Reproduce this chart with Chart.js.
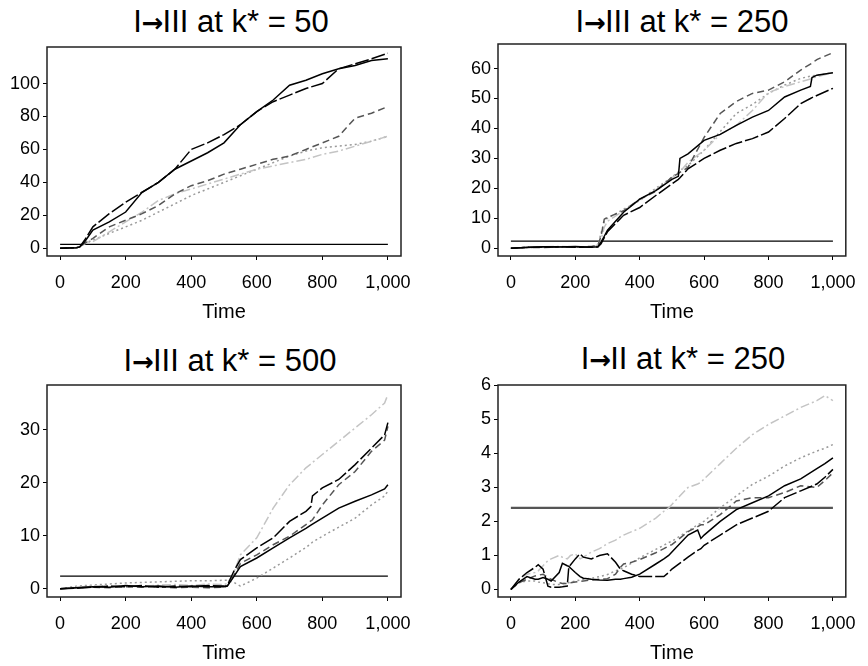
<!DOCTYPE html>
<html>
<head>
<meta charset="utf-8">
<script src="https://cdn.jsdelivr.net/npm/chart.js@4.4.0/dist/chart.umd.min.js"></script>
<style>
	body {margin: 0; background: #fff;}
	#page {position: relative; width: 868px; height: 666px; background: #fff; font-family: "Liberation Sans", Arial, sans-serif;}
	canvas {position: absolute;}
	.title {position: absolute; width: 320px; text-align: center; font-size: 31px; line-height: 36px; color: #000; white-space: nowrap;}
	.arrow {font-family: "DejaVu Sans", sans-serif; font-weight: bold; font-size: 26px; margin: 0 -1px 0 0;}
</style>
</head>
<body>
<div id="page">
	<div class="title" style="left:71px; top:4px">I<span class="arrow">→</span>III at k* = 50</div>
	<div class="title" style="left:522px; top:4px">I<span class="arrow">→</span>III at k* = 250</div>
	<div class="title" style="left:70px; top:343px">I<span class="arrow">→</span>III at k* = 500</div>
	<div class="title" style="left:523px; top:341px">I<span class="arrow">→</span>II at k* = 250</div>
	<canvas id="p1" width="434" height="333" style="left:0; top:0"></canvas>
	<canvas id="p2" width="434" height="333" style="left:434px; top:0"></canvas>
	<canvas id="p3" width="434" height="333" style="left:0; top:333px"></canvas>
	<canvas id="p4" width="434" height="333" style="left:434px; top:333px"></canvas>
</div>
<script>
// shared axis values
const xTicks = [0, 200, 400, 600, 800, 1000]
const threshold = 2.4

// I->III at k* = 50
const p1Time = [0, 50, 60, 75, 100, 150, 200, 250, 300, 350, 400, 450, 500, 550, 600, 650, 700, 750, 800, 850, 900, 950, 1000]
const p1Solid = [0, 0.3, 0.8, 4, 11, 16, 22, 34, 40, 48, 53, 58, 64, 75, 83, 90, 99, 102, 106, 109, 111, 114, 115]
const p1LongDash = [0, 0.3, 0.8, 5, 13, 21, 28, 34, 40, 48, 60, 64, 69, 75, 83, 89, 93, 97, 100, 109, 112, 115, 118.5]
const p1Dash = [0, 0.3, 1, 3, 6, 13, 17, 21, 26, 33, 38, 41, 45, 48, 51, 54, 56, 60, 64, 68, 79, 82, 86]
const p1DashDot = [0, 0.3, 1, 2.5, 4, 10, 16, 22, 29, 33, 36, 39, 42, 45, 48, 50, 52, 54, 57, 59, 62, 65, 68]
const p1Dot = [0, 0.3, 1, 3, 5, 9, 13, 17, 22, 27, 32, 36, 40, 44, 48, 52, 56, 59, 61, 62, 63, 65, 68]
const p1YTicks = [0, 20, 40, 60, 80, 100]

// I->III at k* = 250
const p2Time = [0, 50, 100, 150, 200, 250, 270, 280, 290, 300, 350, 400, 450, 500, 520, 525, 550, 600, 650, 700, 750, 800, 850, 900, 930, 935, 950, 1000]
const p2Solid = [0, 0.2, 0.5, 0.4, 0.6, 0.3, 0.5, 2, 4, 6, 12, 16.4, 19.2, 23, 24, 30, 31.5, 36, 38, 41, 43.8, 46, 50.5, 52.8, 54, 57, 57.8, 58.6]
const p2LongDash = [0, 0.3, 0.4, 0.5, 0.3, 0.4, 0.4, 1.5, 3.5, 5.5, 11, 13.6, 17.6, 21.5, 23, 23.5, 26.5, 30, 32.7, 35, 36.6, 38.8, 43.3, 48.3, 50, 50.3, 51, 53.4]
const p2Dash = [0, 0.3, 0.2, 0.5, 0.4, 0.6, 1, 4, 9.7, 10.3, 12.5, 16.4, 19, 23.7, 25, 25.3, 27, 37, 45, 49, 51.7, 52.8, 55.6, 59.5, 61.5, 61.8, 63, 65.3]
const p2DashDot = [0, 0.3, 0.5, 0.6, 0.4, 0.5, 0.8, 3, 7, 9, 12.5, 16, 19.5, 23.5, 25, 25.5, 28.7, 32.7, 38, 41, 46, 52, 54, 55.6, 56.5, 56.8, 57.3, 58.6]
const p2Dot = [0, 0.2, 0.4, 0.3, 0.5, 0.4, 1, 5, 9, 10, 13, 15.9, 20, 23.7, 25.5, 26, 27.6, 32.7, 39, 45, 48, 51.7, 54.5, 56.7, 57.5, 57.6, 57.8, 58.6]
const p2YTicks = [0, 10, 20, 30, 40, 50, 60]

// I->III at k* = 500
const p3Time = [0, 50, 100, 150, 200, 250, 300, 350, 400, 450, 500, 510, 530, 550, 600, 650, 700, 750, 765, 770, 800, 850, 900, 950, 990, 1000]
const p3Solid = [0, 0.2, 0.4, 0.3, 0.6, 0.4, 0.5, 0.3, 0.5, 0.4, 0.4, 0.5, 2.3, 4.2, 5.8, 7.7, 9.6, 11.4, 12, 12.2, 13.3, 15.2, 16.5, 17.7, 18.8, 19.6]
const p3LongDash = [0, 0.1, 0.3, 0.5, 0.4, 0.6, 0.3, 0.5, 0.4, 0.6, 0.5, 0.6, 3.3, 5.5, 7.7, 9.6, 12.7, 14.6, 15.5, 17.5, 19, 20.6, 23.4, 26.5, 29, 31.3]
const p3Dash = [0, 0.2, 0.3, 0.2, 0.4, 0.3, 0.4, 0.2, 0.3, 0.2, 0.3, 0.5, 2.5, 4.8, 6.4, 8.3, 9.9, 12.1, 12.8, 13, 15.8, 19.6, 22.1, 25.9, 28, 30.6]
const p3DashDot = [0, 0.3, 0.5, 0.6, 0.5, 0.4, 0.7, 0.8, 0.6, 0.9, 0.8, 1, 3, 6.4, 9.6, 15.2, 19.6, 22.8, 23.5, 23.8, 25.3, 27.8, 30.3, 32.8, 35, 36.6]
const p3Dot = [0, 0.5, 0.7, 0.9, 1.1, 1.2, 1.3, 1.4, 1.5, 1.5, 1.6, 1.6, 1.2, 0.5, 2, 3.9, 5.8, 7.8, 8.5, 8.8, 9.9, 11.6, 13.3, 15.8, 17.5, 18.4]
const p3YTicks = [0, 10, 20, 30]

// I->II at k* = 250
const p4Time = [0, 25, 50, 75, 85, 100, 115, 125, 150, 160, 175, 180, 185, 200, 215, 225, 250, 275, 300, 325, 340, 350, 375, 400, 450, 475, 490, 500, 550, 580, 590, 600, 650, 700, 750, 800, 850, 900, 950, 975, 1000]
const p4Solid = [0, 0.22, 0.38, 0.3, 0.3, 0.35, 0.3, 0.25, 0.5, 0.77, 0.7, 0.68, 0.63, 0.5, 0.38, 0.33, 0.3, 0.28, 0.27, 0.3, 0.3, 0.32, 0.36, 0.45, 0.75, 0.9, 1.0, 1.1, 1.6, 1.75, 1.5, 1.6, 2.0, 2.35, 2.55, 2.75, 3.05, 3.25, 3.55, 3.7, 3.87]
const p4LongDash = [0, 0.3, 0.5, 0.65, 0.73, 0.6, 0.1, 0.07, 0.07, 0.08, 0.1, 0.68, 0.72, 0.9, 1.05, 0.95, 0.9, 1.0, 1.05, 0.8, 0.6, 0.55, 0.45, 0.38, 0.38, 0.38, 0.5, 0.6, 0.95, 1.15, 1.2, 1.3, 1.6, 1.9, 2.1, 2.3, 2.7, 2.9, 3.1, 3.3, 3.53]
const p4Dash = [0, 0.2, 0.3, 0.4, 0.42, 0.45, 0.35, 0.3, 0.2, 0.18, 0.18, 0.2, 0.2, 0.22, 0.24, 0.25, 0.28, 0.3, 0.32, 0.45, 0.65, 0.75, 0.8, 0.88, 1.08, 1.2, 1.28, 1.32, 1.7, 1.85, 1.9, 1.9, 2.2, 2.6, 2.7, 2.7, 2.85, 3.05, 3.0, 3.2, 3.43]
const p4DashDot = [0, 0.3, 0.45, 0.5, 0.55, 0.7, 0.85, 0.9, 1.0, 0.95, 0.9, 0.95, 1.0, 1.05, 0.9, 0.95, 1.1, 1.2, 1.35, 1.45, 1.55, 1.6, 1.7, 1.8, 2.1, 2.3, 2.4, 2.5, 3.0, 3.1, 3.15, 3.25, 3.7, 4.15, 4.55, 4.85, 5.1, 5.35, 5.55, 5.7, 5.55]
const p4Dot = [0, 0.2, 0.25, 0.25, 0.22, 0.2, 0.17, 0.15, 0.15, 0.17, 0.2, 0.2, 0.21, 0.25, 0.28, 0.3, 0.33, 0.38, 0.44, 0.55, 0.6, 0.64, 0.78, 0.93, 1.18, 1.3, 1.38, 1.42, 1.72, 1.9, 1.95, 2.01, 2.4, 2.75, 3.09, 3.33, 3.63, 3.87, 4.07, 4.15, 4.26]
const p4YTicks = [0, 1, 2, 3, 4, 5, 6]

const FONT = '"Liberation Sans", Arial, sans-serif'

// line looks, in dataset order (first one is drawn on top)
const looks = [
	{color: '#000', dash: [], width: 1.5},
	{color: '#000', dash: [14, 3], width: 1.5},
	{color: '#555', dash: [7, 4], width: 1.5},
	{color: '#c4c4c4', dash: [9, 3, 2, 3], width: 1.5},
	{color: '#9a9a9a', dash: [2, 3], width: 1.5},
]

const framePlugin = {
	id: 'frame',
	afterDraw(chart) {
		const {ctx, chartArea: a} = chart
		ctx.save()
		ctx.strokeStyle = '#222'
		ctx.lineWidth = 1.5
		ctx.strokeRect(a.left, a.top, a.right - a.left, a.bottom - a.top)
		ctx.restore()
	},
}

function makePanel(id, time, series, yTicks, yMin, yMax, pad, thresholdLook) {
	const datasets = series.map((values, i) => ({
		data: values.map((v, k) => ({x: time[k], y: v})),
		borderColor: looks[i].color,
		borderDash: looks[i].dash,
		borderWidth: looks[i].width,
		pointRadius: 0,
		tension: 0,
	}))
	datasets.push({
		data: [{x: xTicks[0], y: threshold}, {x: xTicks[xTicks.length - 1], y: threshold}],
		borderColor: thresholdLook.color,
		borderWidth: thresholdLook.width,
		pointRadius: 0,
	})
	new Chart(document.getElementById(id), {
		type: 'line',
		data: {datasets},
		plugins: [framePlugin],
		options: {
			responsive: false,
			animation: false,
			layout: {padding: pad},
			plugins: {legend: {display: false}, tooltip: {enabled: false}},
			scales: {
				x: {
					type: 'linear',
					min: -40,
					max: 1040,
					afterBuildTicks: s => { s.ticks = xTicks.map(v => ({value: v})) },
					afterFit: s => { s.height = 68 },
					border: {display: false},
					grid: {drawOnChartArea: false, drawTicks: true, tickLength: 4, color: '#000', tickWidth: 1},
					ticks: {
						color: '#000', padding: 12, maxRotation: 0, autoSkip: false,
						font: {family: FONT, size: 18},
						callback: v => v.toLocaleString('en-US'),
					},
					title: {display: true, text: 'Time', color: '#000', font: {family: FONT, size: 20}, padding: 0},
				},
				y: {
					min: yMin,
					max: yMax,
					afterBuildTicks: s => { s.ticks = yTicks.map(v => ({value: v})) },
					afterFit: s => { s.width = 40 },
					border: {display: false},
					grid: {drawOnChartArea: false, drawTicks: true, tickLength: 4, color: '#000', tickWidth: 1},
					ticks: {color: '#000', padding: 3, autoSkip: false, font: {family: FONT, size: 18}},
				},
			},
		},
	})
}

const thinBlack = {color: '#000', width: 1.3}
makePanel('p1', p1Time, [p1Solid, p1LongDash, p1Dash, p1DashDot, p1Dot], p1YTicks, -4.7, 122.2,
	{left: 7, right: 33, top: 47, bottom: 9}, thinBlack)
makePanel('p2', p2Time, [p2Solid, p2LongDash, p2Dash, p2DashDot, p2Dot], p2YTicks, -2.6, 68.2,
	{left: 24, right: 15, top: 44, bottom: 9}, thinBlack)
makePanel('p3', p3Time, [p3Solid, p3LongDash, p3Dash, p3DashDot, p3Dot], p3YTicks, -1.55, 38.4,
	{left: 7, right: 33, top: 52, bottom: 1}, thinBlack)
makePanel('p4', p4Time, [p4Solid, p4LongDash, p4Dash, p4DashDot, p4Dot], p4YTicks, -0.22, 6.01,
	{left: 24, right: 15, top: 52, bottom: 1}, {color: '#555', width: 2.2})
</script>
</body>
</html>
